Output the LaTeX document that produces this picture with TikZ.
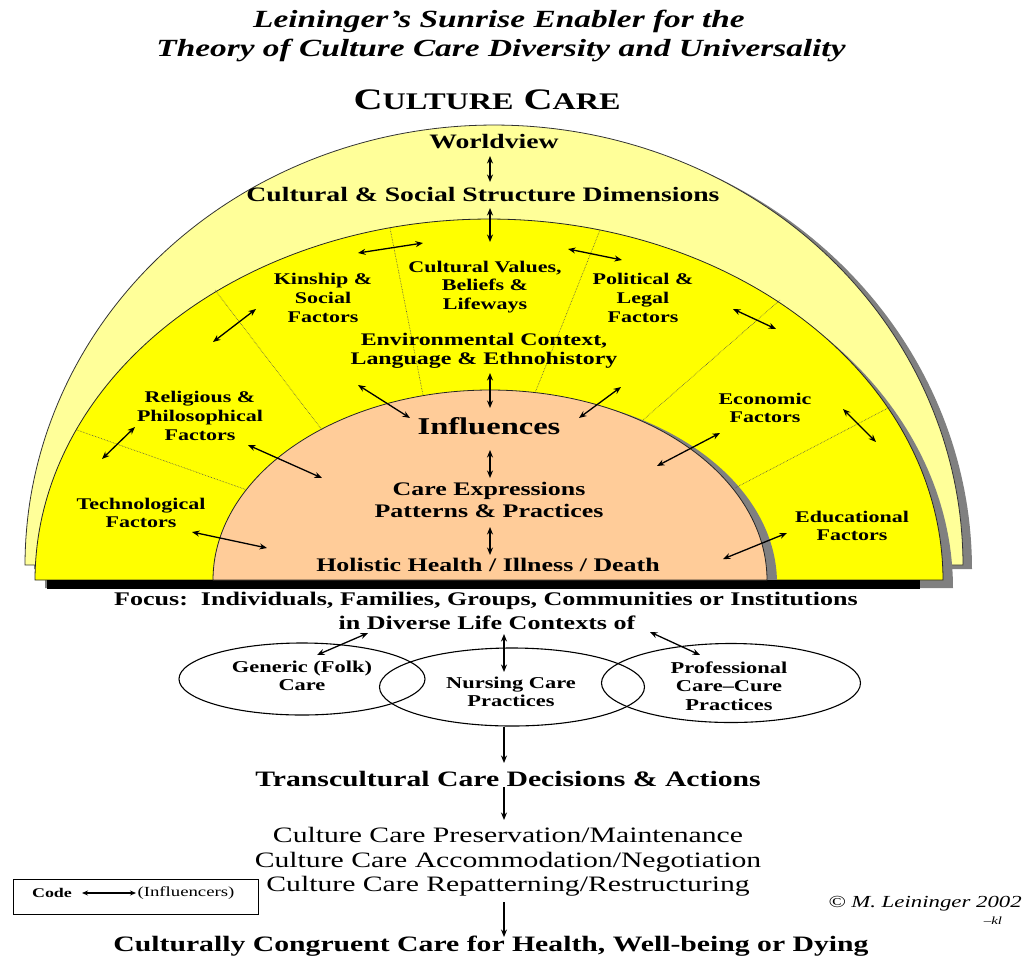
\documentclass[tikz,border=0pt]{standalone}
\usepackage{fontspec}
\setmainfont{Liberation Serif}
\newfontfamily\strf[FakeStretch=1.35]{Liberation Serif}
\usetikzlibrary{arrows.meta,shapes.geometric}
\definecolor{lyel}{HTML}{FFFF99}
\definecolor{yel}{HTML}{FFFF00}
\definecolor{peach}{HTML}{FFCC99}
\definecolor{shgray}{HTML}{808080}
\newcommand\scp[1]{{\fontsize{23.8}{24}\selectfont #1}}
\tikzset{
  biarr/.style={{Stealth[length=7.5pt,width=6pt]}-{Stealth[length=7.5pt,width=6pt]}, line width=1.3pt},
  smallbi/.style={{Stealth[length=6pt,width=5pt]}-{Stealth[length=6pt,width=5pt]}, line width=1.2pt},
  downarr/.style={-{Stealth[length=7.5pt,width=6pt]}, line width=1.3pt},
  radial/.style={densely dotted, line width=0.6pt, black!70},
  txt/.style={inner sep=0pt, align=center, text=black},
  ttl/.style={txt, font=\strf\bfseries\itshape\fontsize{24.7}{28}\selectfont},
  cctitle/.style={txt, font=\strf\bfseries\fontsize{29.8}{30}\selectfont},
  dim/.style={txt, font=\strf\bfseries\fontsize{20.5}{22}\selectfont},
  lab/.style={txt, font=\strf\bfseries\fontsize{16.3}{18.8}\selectfont},
  env/.style={txt, font=\strf\bfseries\fontsize{17.7}{19.5}\selectfont},
  care/.style={txt, font=\strf\bfseries\fontsize{19.2}{22}\selectfont},
  infl/.style={txt, font=\strf\bfseries\fontsize{24.1}{26}\selectfont},
  focus/.style={txt, font=\strf\bfseries\fontsize{19.3}{22}\selectfont},
  ell/.style={txt, font=\strf\bfseries\fontsize{16.6}{18.5}\selectfont},
  bigb/.style={txt, font=\strf\bfseries\fontsize{22}{24}\selectfont},
  modes/.style={txt, font=\strf\fontsize{22}{24.5}\selectfont},
  ringell/.style={draw, ellipse, line width=1.1pt, inner sep=0pt},
}
\begin{document}
\begin{tikzpicture}[x=1pt,y=-1pt]
\useasboundingbox (0,0) rectangle (1025,956);
\fill[white] (0,0) rectangle (1025,956);

% outer band (light yellow) with shadow
\fill[shgray] plot[domain=180:360, samples=160] ({503+469*cos(\x)}, {569+440*sin(\x)}) -- cycle;
\draw[fill=lyel, draw=black!80, line width=0.8pt] plot[domain=180:360, samples=160] ({494+469*cos(\x)}, {565+440*sin(\x)}) -- cycle;

% middle band (yellow) with shadow
\fill[shgray] plot[domain=180:360, samples=160] ({499+454*cos(\x)}, {588+361*sin(\x)}) -- cycle;
\draw[fill=yel, draw=black!85, line width=0.8pt] plot[domain=180:360, samples=160] ({489+454*cos(\x)}, {580+361*sin(\x)}) -- cycle;

% inner (peach) with shadow
\fill[shgray] plot[domain=180:360, samples=160] ({500+277*cos(\x)}, {583+190*sin(\x)}) -- cycle;
\fill[black] (47,580) rectangle (920,589);
\draw[fill=peach, draw=black!85, line width=0.8pt] plot[domain=180:360, samples=160] ({490+277*cos(\x)}, {580+190*sin(\x)}) -- cycle;

% radial dotted dividers
\draw[radial] (77,430) -- (247,490);
\draw[radial] (215,290) -- (322,430);
\draw[radial] (390,228) -- (423,395);
\draw[radial] (600,230) -- (535,393);
\draw[radial] (780,300) -- (643,420);
\draw[radial] (890,407) -- (735,488);

% titles
\node[ttl] (t1) at (499,21) {Leininger’s Sunrise Enabler for the};
\node[ttl] (t2) at (501,50) {Theory of Culture Care Diversity and Universality};
\node[cctitle] (cc) at (487,100) {C\scp{ULTURE} C\scp{ARE}};

% upper texts
\node[dim] (wv) at (494,142) {Worldview};
\node[dim] (cssd) at (483,194.5) {Cultural \& Social Structure Dimensions};
\node[lab] (kin) at (323,298) {Kinship \&\\Social\\Factors};
\node[lab] (val) at (485,287) {Cultural Values,\\Beliefs \&\\Lifeways};
\node[lab] (pol) at (643,298) {Political \&\\Legal\\Factors};
\node[env] (envc) at (484,351) {Environmental Context,\\Language \& Ethnohistory};
\node[lab] (rel) at (200,416) {Religious \&\\Philosophical\\Factors};
\node[lab] (tech) at (141,513) {Technological\\Factors};
\node[lab] (eco) at (765,408) {Economic\\Factors};
\node[lab] (edu) at (852,526) {Educational\\Factors};
\node[infl] (inf) at (489,426) {Influences};
\node[care] (cexp) at (489,500) {Care Expressions\\Patterns \& Practices};
\node[care] (hol) at (488,565) {Holistic Health / Illness / Death};

% vertical arrows in the sunrise
\coordinate (v1a) at (490,156); \coordinate (v1b) at (490,182);
\coordinate (v2a) at (490,208); \coordinate (v2b) at (490,242);
\coordinate (v3a) at (490,373); \coordinate (v3b) at (490,408);
\coordinate (v4a) at (490,450); \coordinate (v4b) at (490,478);
\coordinate (v5a) at (490,527); \coordinate (v5b) at (490,555);
\draw[biarr] (v1a) -- (v1b);
\draw[biarr] (v2a) -- (v2b);
\draw[biarr] (v3a) -- (v3b);
\draw[biarr] (v4a) -- (v4b);
\draw[biarr] (v5a) -- (v5b);

% influence arrows
\coordinate (a1a) at (358,253); \coordinate (a1b) at (423,243);
\coordinate (a2a) at (568,249); \coordinate (a2b) at (622,260);
\coordinate (a3a) at (213,342); \coordinate (a3b) at (256,309);
\coordinate (a4a) at (733,309); \coordinate (a4b) at (776,329);
\coordinate (a5a) at (102,459); \coordinate (a5b) at (135,427);
\coordinate (a6a) at (843,409); \coordinate (a6b) at (876,442);
\coordinate (a7a) at (358,385); \coordinate (a7b) at (410,418);
\coordinate (a8a) at (621,387); \coordinate (a8b) at (579,418);
\coordinate (a9a) at (248,445); \coordinate (a9b) at (322,478);
\coordinate (a10a) at (720,433); \coordinate (a10b) at (657,466);
\coordinate (a11a) at (192,532); \coordinate (a11b) at (267,548);
\coordinate (a12a) at (787,533); \coordinate (a12b) at (723,559);
\foreach \i in {1,...,12} {\draw[biarr] (a\i a) -- (a\i b);}

% focus
\node[focus] (foc) at (486,601) {Focus:\ \ Individuals, Families, Groups, Communities or Institutions};
\node[focus] (ctx) at (487,623) {in Diverse Life Contexts of};

% three ellipses
\node[ringell, minimum width=246pt, minimum height=72pt] (gen) at (302,679) {};
\node[ringell, minimum width=265pt, minimum height=78pt] (nur) at (512,687) {};
\node[ringell, minimum width=259pt, minimum height=79pt] (pro) at (731,683) {};
\node[ell] (genl) at (302,676) {Generic (Folk)\\Care};
\node[ell] (nurl) at (511,692) {Nursing Care\\Practices};
\node[ell] (prol) at (729,686) {Professional\\Care–Cure\\Practices};

\coordinate (b1a) at (368,633); \coordinate (b1b) at (317,655);
\coordinate (b2a) at (504,634); \coordinate (b2b) at (504,672);
\coordinate (b3a) at (650,632); \coordinate (b3b) at (700,655);
\draw[biarr] (b1a) -- (b1b);
\draw[biarr] (b2a) -- (b2b);
\draw[biarr] (b3a) -- (b3b);

% decisions
\node[bigb] (tcd) at (508,779) {Transcultural Care Decisions \& Actions};
\node[modes] (modes) at (508,862) {Culture Care Preservation/Maintenance\\Culture Care Accommodation/Negotiation\\Culture Care Repatterning/Restructuring};
\node[bigb] (ccc) at (491,946) {Culturally Congruent Care for Health, Well-being or Dying};

\coordinate (d1a) at (504,727); \coordinate (d1b) at (504,763);
\coordinate (d2a) at (504,787); \coordinate (d2b) at (504,820);
\coordinate (d3a) at (504,902); \coordinate (d3b) at (504,937);
\draw[downarr] (d1a) -- (d1b);
\draw[downarr] (d2a) -- (d2b);
\draw[downarr] (d3a) -- (d3b);

% code box
\node[draw, line width=0.9pt, minimum width=245pt, minimum height=35pt, inner sep=0pt] (codebox) at (135.5,896.5) {};
\node[txt, font=\strf\bfseries\fontsize{13.3}{14}\selectfont] (code) at (52,893) {Code};
\node[txt, font=\strf\fontsize{13.9}{14}\selectfont] (infc) at (186,893) {(Influencers)};
\coordinate (ka) at (82,893); \coordinate (kb) at (136,893);
\draw[smallbi] (ka) -- (kb);

% copyright
\node[txt, font=\strf\itshape\fontsize{16.9}{18}\selectfont] (copy) at (925,904) {© M. Leininger 2002};
\node[txt, font=\strf\itshape\fontsize{11}{12}\selectfont] (kl) at (993,921) {–kl};
\end{tikzpicture}
\end{document}
